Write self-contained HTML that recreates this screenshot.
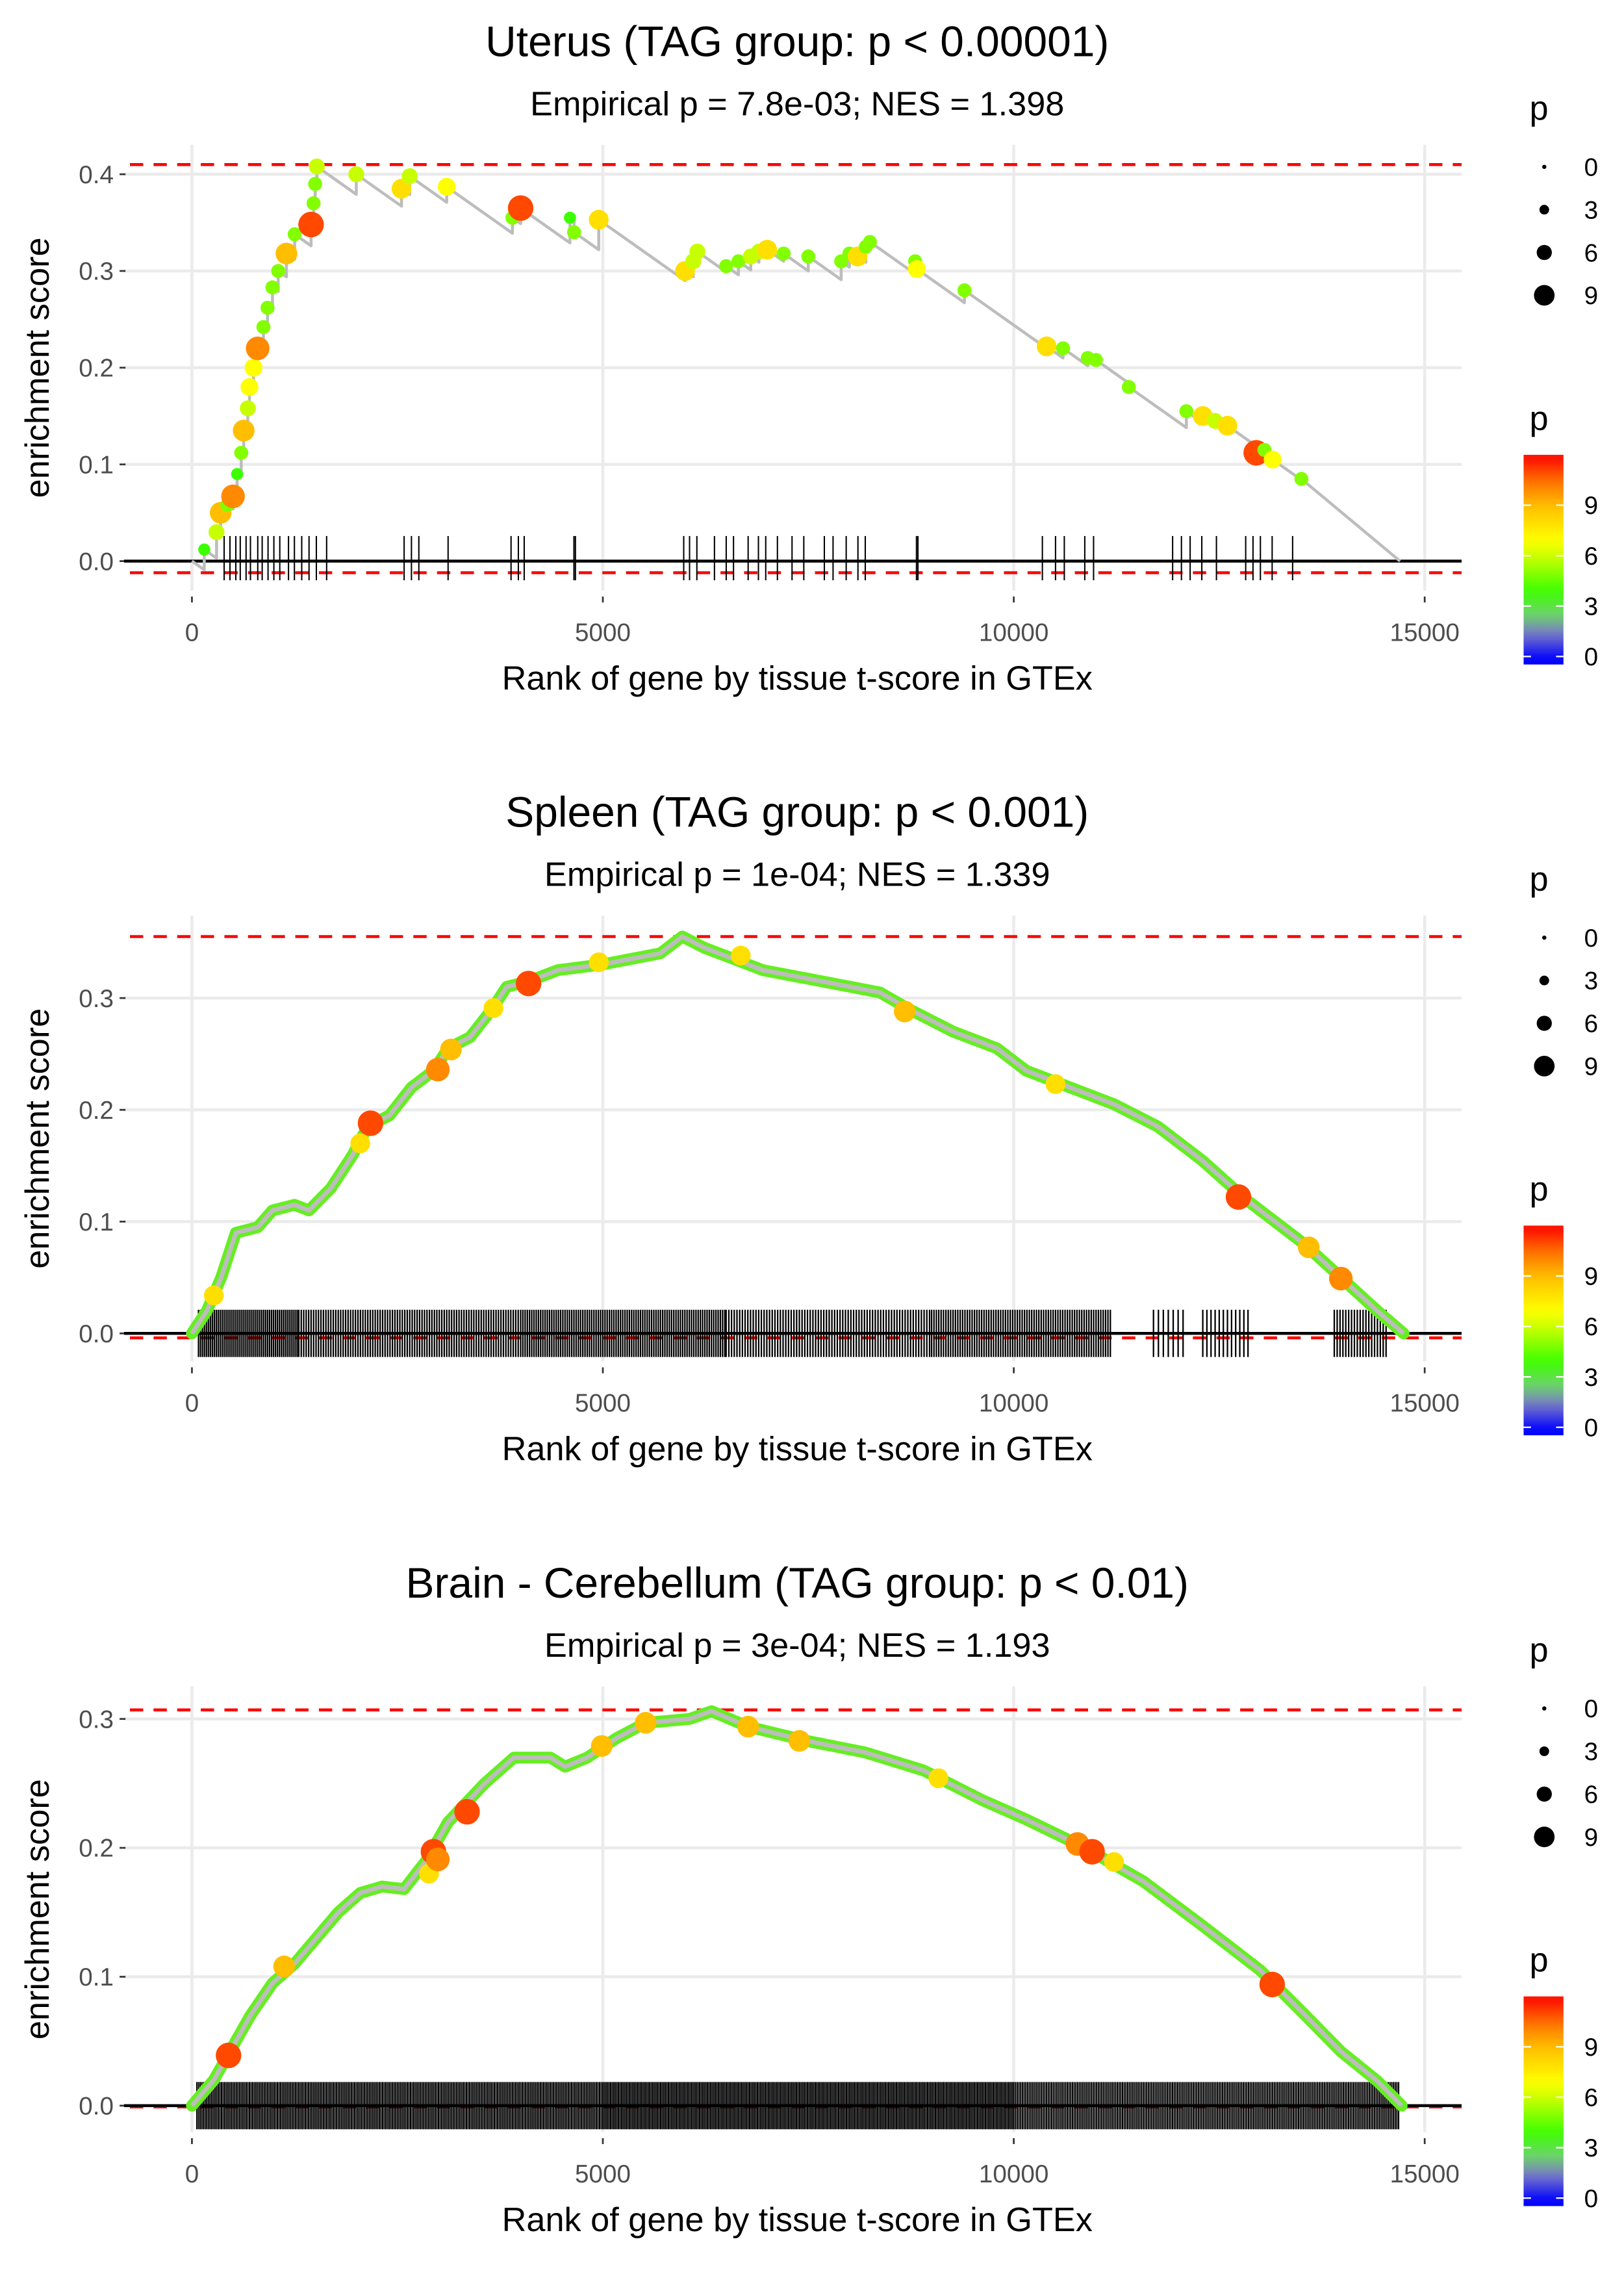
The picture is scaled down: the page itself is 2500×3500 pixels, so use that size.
<!DOCTYPE html>
<html><head><meta charset="utf-8"><style>
html,body{margin:0;padding:0;background:#fff}
svg{display:block}
text{font-family:"Liberation Sans",sans-serif}
</style></head><body>
<svg id="fig" width="2500" height="3500" viewBox="0 0 1100 1540" xmlns="http://www.w3.org/2000/svg"></svg>
<script>
// ---------- Panel 1: Uterus ----------
const p1Ranks = [150,300,350,430,500,550,600,630,680,700,750,800,870,920,980,1050,1150,1250,1450,1480,1500,1520,2000,2550,2650,3100,3900,4000,4600,4650,4950,6000,6100,6150,6500,6650,6800,6900,7000,7200,7500,7900,8000,8100,8200,8250,8800,8820,9400,10400,10600,10900,11000,11400,12100,12300,12450,12600,12950,13050,13150,13500];
const p1ES    = [0.012,0.03,0.05,0.058,0.067,0.09,0.112,0.135,0.158,0.18,0.2,0.22,0.242,0.262,0.283,0.3,0.318,0.338,0.348,0.37,0.39,0.408,0.4,0.385,0.398,0.387,0.355,0.365,0.355,0.34,0.353,0.3,0.31,0.32,0.305,0.31,0.315,0.32,0.322,0.318,0.315,0.31,0.318,0.315,0.325,0.33,0.31,0.302,0.28,0.222,0.22,0.21,0.208,0.18,0.155,0.15,0.145,0.14,0.112,0.115,0.105,0.085];
const p1P     = [4,6,9,5,10,4,5,9,6,7,7,10,5,5,5,5,9,5,11,5,5,6,6,8,6,7,5,11,4,5,8,8,6,6,5,5,6,6,8,5,5,5,5,8,5,5,5,7,5,8,5,5,5,5,5,8,6,8,11,5,7,5];
const p1Rug   = [392,463,534,588,659,712,801,855,926,997,1069,1175,1247,1336,1425,1514,1639,2582,2671,2761,3117,3883,3972,4043,4648,4666,5984,6055,6144,6358,6501,6590,6768,6893,6982,7124,7302,7445,7695,7801,7961,8104,8193,8816,8834,10348,10508,10615,10864,10971,11933,12040,12146,12288,12466,12822,12911,13001,13144,13393];

// ---------- Panel 2: Spleen ----------
const p2CurveRanks = [0,180,356,534,801,980,1247,1425,1692,1959,2137,2404,2671,2939,3117,3384,3651,3829,4096,4453,4987,5343,5699,5966,6234,6590,6946,7659,8371,8727,9261,9796,10152,10508,11042,11220,11754,12288,12822,13534,13980,14426,14743];
const p2CurveES    = [0,0.02,0.05,0.09,0.095,0.11,0.115,0.11,0.13,0.16,0.185,0.195,0.22,0.235,0.255,0.265,0.29,0.31,0.315,0.325,0.33,0.335,0.34,0.355,0.345,0.335,0.325,0.315,0.305,0.29,0.27,0.255,0.235,0.225,0.21,0.205,0.185,0.155,0.12,0.08,0.05,0.02,0];
const p2BigRanks = [267,2173,2048,2992,3152,3669,4096,4951,6678,8673,10508,12734,13589,13980];
const p2BigES    = [0.034,0.188,0.17,0.236,0.254,0.291,0.313,0.332,0.338,0.288,0.223,0.122,0.077,0.049];
const p2BigP     = [8,11,8,10,9,8,11,8,8,9,8,11,9,10];
const p2RugSegs  = [[80,1300,24],[1300,4000,30],[4000,6500,27],[6500,9000,33],[9000,11200,29],[11700,12100,60],[12300,12900,50],[13900,14550,35]];

// ---------- Panel 3: Brain - Cerebellum ----------
const p3CurveRanks = [0,267,445,712,980,1247,1514,1781,2048,2315,2582,2850,3117,3562,3918,4363,4541,4809,5165,5521,6055,6322,6768,7480,8193,8905,9618,10152,10864,11577,12288,13000,13534,13980,14426,14720];
const p3CurveES    = [0,0.02,0.04,0.07,0.095,0.11,0.13,0.15,0.165,0.17,0.168,0.19,0.22,0.25,0.27,0.27,0.263,0.27,0.285,0.297,0.3,0.306,0.294,0.283,0.274,0.26,0.237,0.222,0.2,0.174,0.14,0.105,0.071,0.042,0.019,0];
const p3BigRanks = [445,1122,2885,2939,2992,3348,4987,5521,6768,7391,9083,10775,10953,11220,13144];
const p3BigES    = [0.039,0.108,0.18,0.197,0.191,0.228,0.279,0.297,0.294,0.283,0.254,0.203,0.197,0.189,0.094];
const p3BigP     = [11,9,8,11,10,11,9,9,9,9,8,10,11,8,11];
const p3RugSegs  = [[60,5000,20],[5000,10000,19],[10000,14700,21]];

const xTicks = [0,5000,10000,15000];
const legendSizes = [0,3,6,9];
const legendColorTicks = [9,6,3,0];

const NS = "http://www.w3.org/2000/svg";
const svg = document.getElementById('fig');
function mk(tag, attrs, parent){
  const e = document.createElementNS(NS, tag);
  for (const k in attrs) e.setAttribute(k, attrs[k]);
  (parent||svg).appendChild(e); return e;
}
const stops = [[0,[0,0,255]],[1.5,[120,120,200]],[2.6,[110,210,110]],[4,[60,255,0]],[6,[200,255,0]],[7,[255,255,0]],[9,[255,190,0]],[10.5,[255,110,0]],[12,[255,0,0]]];
function pcol(p){
  if (p<=stops[0][0]) return 'rgb('+stops[0][1]+')';
  for (let i=1;i<stops.length;i++){
    if (p<=stops[i][0]){
      const a=stops[i-1],b=stops[i],t=(p-a[0])/(b[0]-a[0]);
      return 'rgb('+a[1].map((v,j)=>Math.round(v+(b[1][j]-v)*t)).join(',')+')';
    }
  }
  return 'rgb(255,0,0)';
}
function prad(p){ return 1.5 + p*0.65; }

function panel(cfg){
  const g = mk('g', {});
  
  
  const X = r => 130 + r*835/15000;
  const Y = v => cfg.y0 - v*cfg.sc;
  const off = cfg.legOff;
  const t = mk('text',{x:540,y:38+off,'font-size':29,'text-anchor':'middle',fill:'#000'},g);
  t.textContent = cfg.title;
   
  const st = mk('text',{x:540,y:78+off,'font-size':23,'text-anchor':'middle',fill:'#000'},g);
  st.textContent = cfg.sub;
   
  const grid = mk('g',{},g);
   
  for (let v=0; v<=cfg.ymax+1e-9; v+=0.1){
    mk('line',{x1:84,x2:990,y1:Y(v),y2:Y(v),stroke:'#ebebeb','stroke-width':2},grid);
    mk('line',{x1:81,x2:85,y1:Y(v),y2:Y(v),stroke:'#333','stroke-width':1.2},g);
    const tl = mk('text',{x:77,y:Y(v)+6,'font-size':17,'text-anchor':'end',fill:'#4d4d4d'},g);
    tl.textContent = v.toFixed(1);
     
  }
  xTicks.forEach(r=>{
    mk('line',{x1:X(r),x2:X(r),y1:cfg.top,y2:cfg.bot,stroke:'#ebebeb','stroke-width':2},grid);
    mk('line',{x1:X(r),x2:X(r),y1:cfg.bot+4,y2:cfg.bot+8,stroke:'#333','stroke-width':1.2},g);
    const tl = mk('text',{x:X(r),y:cfg.bot+34,'font-size':17,'text-anchor':'middle',fill:'#4d4d4d'},g);
    tl.textContent = r;
     
  });
  [cfg.hiLine, cfg.loLine].forEach(v=>{
    const l = mk('line',{x1:88,x2:990,y1:Y(v),y2:Y(v),stroke:'#ff0000','stroke-width':2,'stroke-dasharray':'9 7'},g);
     
  });
  const rug = mk('g',{},g);
   
  let d='';
  cfg.rug.forEach(r=>{ d+='M'+X(r).toFixed(2)+' '+(cfg.y0-cfg.rugH)+'V'+(cfg.y0+cfg.rugH2); });
  mk('path',{d:d,stroke:'#000','stroke-width':cfg.rugW},rug);
  const zl = mk('line',{x1:84,x2:990,y1:cfg.y0,y2:cfg.y0,stroke:'#000','stroke-width':2},g);
   
  const pts = cfg.curve.map(c=>X(c[0]).toFixed(2)+','+Y(c[1]).toFixed(2)).join(' ');
  if (cfg.dense){
    const under = mk('polyline',{points:pts,fill:'none',stroke:'#66ee22','stroke-width':8,'stroke-linejoin':'round','stroke-linecap':'round'},g);
     
  }
  const line = mk('polyline',{points:pts,fill:'none',stroke:'#bdbdbd','stroke-width':cfg.dense?3:2,'stroke-linejoin':'round'},g);
   
  const pg = mk('g',{},g);
   
  cfg.pts.forEach(q=>{
    const c = mk('circle',{cx:X(q[0]),cy:Y(q[1]),r:prad(q[2]),fill:pcol(q[2])},pg);
    
    
  });
  const xt = mk('text',{x:540,y:cfg.bot+67,'font-size':23,'text-anchor':'middle',fill:'#000'},g);
  xt.textContent = 'Rank of gene by tissue t-score in GTEx';
   
  const cy = (cfg.top+cfg.bot)/2;
  const yt = mk('text',{x:33,y:cy,'font-size':23,'text-anchor':'middle',fill:'#000',transform:'rotate(-90 33 '+cy+')'},g);
  yt.textContent = 'enrichment score';
   
  const lg = mk('g',{},g);
   
  const lt = mk('text',{x:1036,y:81+off,'font-size':23,fill:'#000'},lg); lt.textContent='p';
  legendSizes.forEach((s,i)=>{
    const yy = 113+off+i*29;
    mk('circle',{cx:1046,cy:yy,r:prad(s)*0.95,fill:'#000'},lg);
    const tx = mk('text',{x:1073,y:yy+6,'font-size':17,fill:'#000'},lg); tx.textContent=s;
  });
  const cg = mk('g',{},g);
   
  const ct = mk('text',{x:1036,y:291+off,'font-size':23,fill:'#000'},cg); ct.textContent='p';
  const gid = 'grad'+off;
  const defs = mk('defs',{},cg);
  const lgr = mk('linearGradient',{id:gid,x1:0,y1:1,x2:0,y2:0},defs);
  for (let p=-0.3;p<=12.01;p+=0.5){
    mk('stop',{offset:((p+0.3)/12.3).toFixed(3),'stop-color':pcol(p)},lgr);
  }
  mk('rect',{x:1032,y:308+off,width:27,height:142,fill:'url(#'+gid+')'},cg);
  legendColorTicks.forEach(v=>{
    const yy = 448+off - (v+0.3)*140/12.3;
    mk('line',{x1:1032,x2:1037,y1:yy,y2:yy,stroke:'#fff','stroke-width':1},cg);
    mk('line',{x1:1054,x2:1059,y1:yy,y2:yy,stroke:'#fff','stroke-width':1},cg);
    const tx = mk('text',{x:1073,y:yy+6,'font-size':17,fill:'#000'},cg); tx.textContent=v;
  });
}

const decay = 6e-5;
const c1 = [[0,0]];
let pr=0, pe=0;
for (let i=0;i<p1Ranks.length;i++){
  c1.push([p1Ranks[i], pe - decay*(p1Ranks[i]-pr)]);
  c1.push([p1Ranks[i], p1ES[i]]);
  pr=p1Ranks[i]; pe=p1ES[i];
}
c1.push([14700,0]);
panel({name:'panel-uterus',title:'Uterus (TAG group: p < 0.00001)',sub:'Empirical p = 7.8e-03; NES = 1.398',
  y0:380,sc:655,top:98,bot:400,ymax:0.4,hiLine:0.41,loLine:-0.012,rugH:17,rugH2:13,rugW:0.9,legOff:0,dense:false,
  rug:p1Rug,curve:c1,pts:p1Ranks.map((r,i)=>[r,p1ES[i],p1P[i]])});

function segRug(segs){ const out=[]; segs.forEach(s=>{ for(let r=s[0]; r<s[1]; r+=s[2]) out.push(r); }); return out; }
panel({name:'panel-spleen',title:'Spleen (TAG group: p < 0.001)',sub:'Empirical p = 1e-04; NES = 1.339',
  y0:903,sc:757,top:620,bot:922,ymax:0.3,hiLine:0.355,loLine:-0.004,rugH:16,rugH2:16,rugW:1,legOff:522,dense:true,
  rug:segRug(p2RugSegs),curve:p2CurveRanks.map((r,i)=>[r,p2CurveES[i]]),
  pts:p2BigRanks.map((r,i)=>[r,p2BigES[i],p2BigP[i]])});
panel({name:'panel-cerebellum',title:'Brain - Cerebellum (TAG group: p < 0.01)',sub:'Empirical p = 3e-04; NES = 1.193',
  y0:1426,sc:873,top:1142,bot:1444,ymax:0.3,hiLine:0.307,loLine:-0.001,rugH:16,rugH2:16,rugW:0.9,legOff:1044,dense:true,
  rug:segRug(p3RugSegs),curve:p3CurveRanks.map((r,i)=>[r,p3CurveES[i]]),
  pts:p3BigRanks.map((r,i)=>[r,p3BigES[i],p3BigP[i]])});
</script>
</body></html>
